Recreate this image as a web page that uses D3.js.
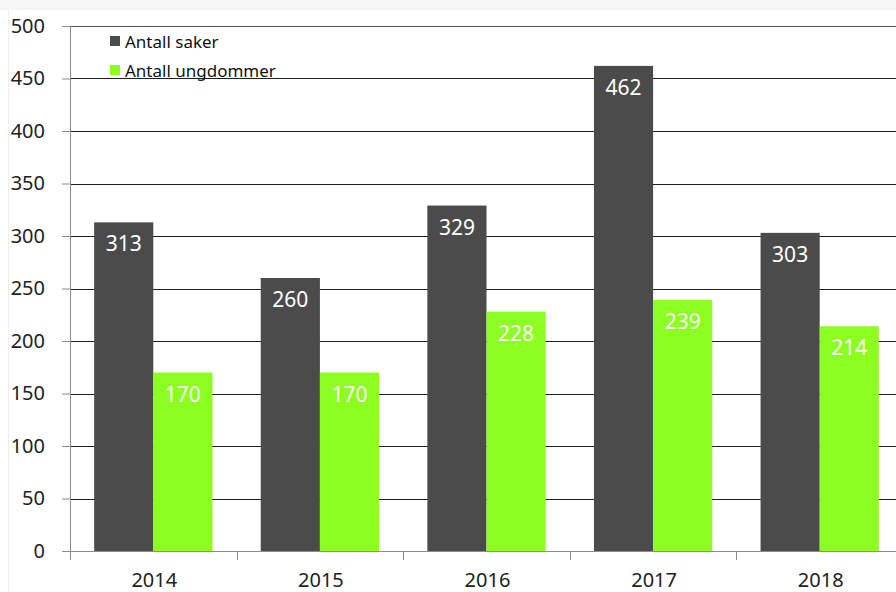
<!DOCTYPE html>
<html>
<head>
<meta charset="utf-8">
<script src="https://cdn.jsdelivr.net/npm/d3@7"></script>
<style>
  body { margin: 0; background: #fff; }
  svg { display: block; font-family: "Noto Sans", sans-serif; }
</style>
</head>
<body>
<div id="chart"></div>
<script>
// data
var years = ["2014", "2015", "2016", "2017", "2018"];
var saker = [313, 260, 329, 462, 303];
var ungdommer = [170, 170, 228, 239, 214];
var seriesNames = ["Antall saker", "Antall ungdommer"];
var seriesColors = ["#4b4b4b", "#8cff21"];
var yTicks = [0, 50, 100, 150, 200, 250, 300, 350, 400, 450, 500];

// dimensions
var W = 896, H = 592;
var margin = {left: 70, top: 26, right: -7, bottom: 41};
var width = W - margin.left - margin.right,
    height = H - margin.top - margin.bottom;

var svg = d3.select("#chart").append("svg")
    .attr("width", W)
    .attr("height", H)
    .style("overflow", "hidden");

// faint page frame
svg.append("rect").attr("x", 0).attr("y", 0).attr("width", W).attr("height", 10).attr("fill", "#f6f6f6");
svg.append("line").attr("x1", 8.5).attr("x2", 8.5).attr("y1", 10).attr("y2", H).attr("stroke", "#eeeeee");

var g = svg.append("g")
    .attr("transform", "translate(" + margin.left + "," + margin.top + ")");

// scales
var x0 = d3.scaleBand().domain(years).range([0, width]).paddingInner(0.29).paddingOuter(0.145);
var x1 = d3.scaleBand().domain([0, 1]).range([0, x0.bandwidth()]);
var y = d3.scaleLinear().domain([0, 500]).range([height, 0]);

// gridlines
g.selectAll(".grid").data(yTicks.filter(function(d){ return d > 0; }))
  .enter().append("line")
    .attr("x1", 0).attr("x2", width)
    .attr("y1", function(d){ return Math.round(y(d)) + 0.5; })
    .attr("y2", function(d){ return Math.round(y(d)) + 0.5; })
    .attr("stroke", function(d){ return d === 500 ? "#555" : "#1e1e1e"; })
    .attr("stroke-width", 1);

// bars
var rows = years.map(function(yr, i){ return {year: yr, vals: [saker[i], ungdommer[i]]}; });
var grp = g.selectAll(".grp").data(rows).enter().append("g")
    .attr("transform", function(d){ return "translate(" + x0(d.year) + ",0)"; });

grp.selectAll("rect").data(function(d){ return d.vals.map(function(v, k){ return {v: v, k: k}; }); })
  .enter().append("rect")
    .attr("x", function(d){ return x1(d.k); })
    .attr("width", x1.bandwidth())
    .attr("y", function(d){ return y(d.v); })
    .attr("height", function(d){ return height - y(d.v); })
    .attr("fill", function(d){ return seriesColors[d.k]; });

grp.selectAll("text").data(function(d){ return d.vals.map(function(v, k){ return {v: v, k: k}; }); })
  .enter().append("text")
    .attr("x", function(d){ return x1(d.k) + x1.bandwidth() / 2; })
    .attr("y", function(d){ return y(d.v) + 21; })
    .attr("text-anchor", "middle")
    .attr("dominant-baseline", "central")
    .attr("font-size", "21px")
    .attr("fill", "#fff")
    .text(function(d){ return d.v; });

// y axis
var yAxis = d3.axisLeft(y).tickValues(yTicks).tickSize(8).tickPadding(17);
var ya = g.append("g").call(yAxis);
ya.select(".domain").attr("stroke", "#8c8c8c");
ya.selectAll(".tick line").attr("stroke", "#8c8c8c");
ya.selectAll(".tick text").attr("font-size", "20px").attr("fill", "#222")
  .attr("font-family", "Noto Sans, sans-serif");

// x axis (category boundary ticks)
var xa = g.append("g").attr("transform", "translate(0," + height + ")");
xa.append("line").attr("x1", 0).attr("x2", width).attr("y1", 0.5).attr("y2", 0.5).attr("stroke", "#8c8c8c");
var step = x0.step();
var bounds = d3.range(years.length + 1).map(function(i){ return x0(years[0]) - x0.paddingOuter() * step + i * step; });
xa.selectAll(".bt").data(bounds).enter().append("line")
    .attr("x1", function(d){ return Math.round(d) + 0.5; })
    .attr("x2", function(d){ return Math.round(d) + 0.5; })
    .attr("y1", 0).attr("y2", 9)
    .attr("stroke", "#8c8c8c");
xa.selectAll(".lbl").data(years).enter().append("text")
    .attr("x", function(d){ return x0(d) + x0.bandwidth() / 2 + 1; })
    .attr("y", 28)
    .attr("text-anchor", "middle")
    .attr("dominant-baseline", "central")
    .attr("font-size", "20px")
    .attr("fill", "#222")
    .text(function(d){ return d; });

// legend
var legend = svg.append("g").attr("transform", "translate(110,36)");
seriesNames.forEach(function(name, i){
  var row = legend.append("g").attr("transform", "translate(0," + (i * 29) + ")");
  row.append("rect").attr("width", 10).attr("height", 10).attr("fill", seriesColors[i]);
  row.append("text").attr("x", 15).attr("y", 5.5)
    .attr("dominant-baseline", "central")
    .attr("font-size", "17px").attr("fill", "#111")
    .text(name);
});
</script>
</body>
</html>
